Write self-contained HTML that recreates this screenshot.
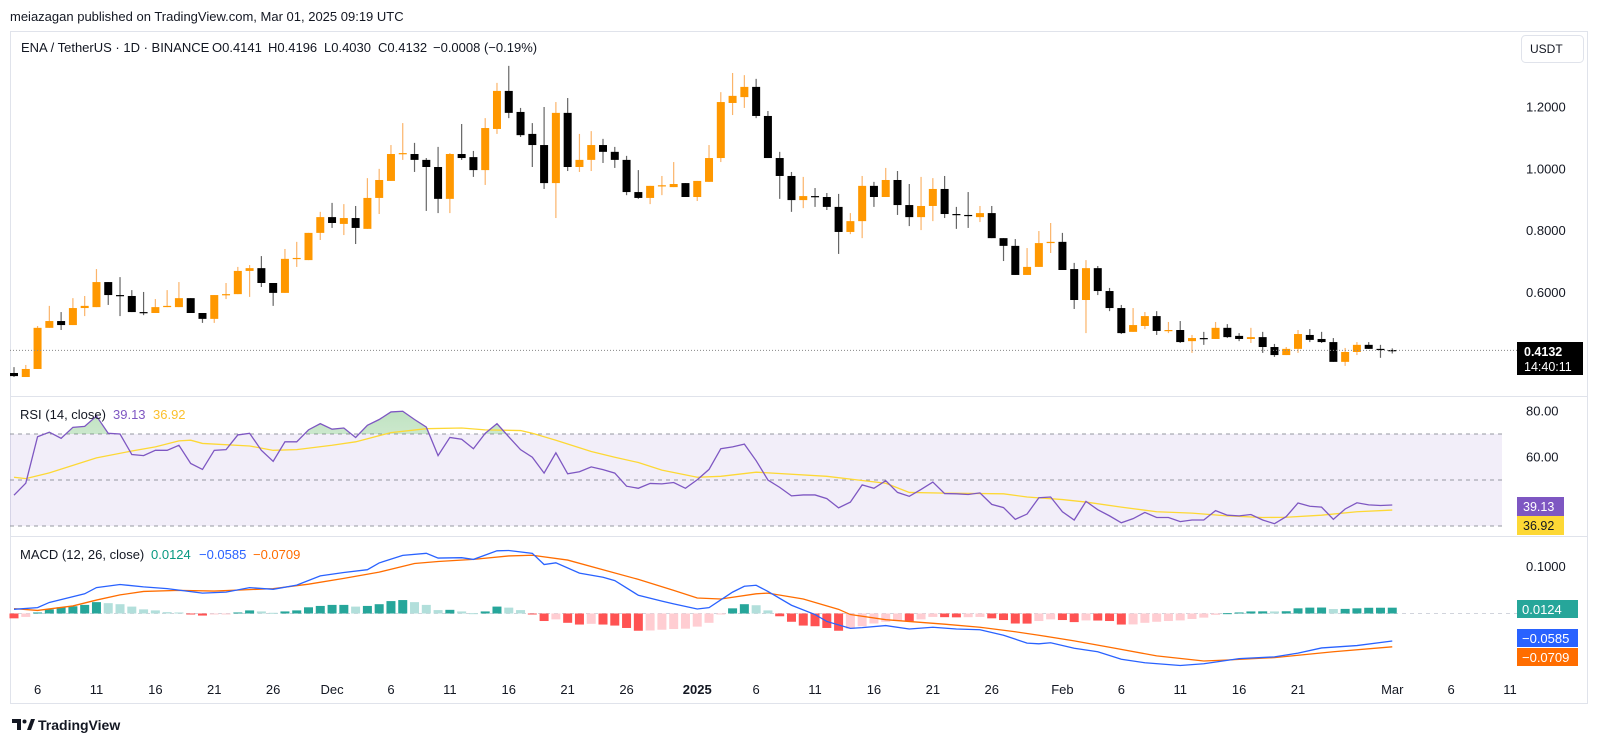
<!DOCTYPE html>
<html><head><meta charset="utf-8"><style>
html,body{margin:0;padding:0;background:#fff;width:1600px;height:743px;overflow:hidden;}
svg{display:block;font-family:"Liberation Sans",sans-serif;}
</style></head><body>
<svg id="chart" width="1600" height="743" viewBox="0 0 1600 743">
<defs>
<clipPath id="obClip"><rect x="10" y="396" width="1492" height="38"/></clipPath>
<linearGradient id="obGrad" x1="0" y1="0" x2="0" y2="1"><stop offset="0" stop-color="#4caf50" stop-opacity="0.35"/><stop offset="1" stop-color="#4caf50" stop-opacity="0.05"/></linearGradient>
</defs>
<text x="10" y="21" font-size="13" fill="#131722">meiazagan published on TradingView.com, Mar 01, 2025 09:19 UTC</text>
<rect x="10.5" y="31.5" width="1577" height="672" fill="none" stroke="#e0e3eb"/>
<line x1="10" y1="396.5" x2="1588" y2="396.5" stroke="#e0e3eb"/>
<line x1="10" y1="536.5" x2="1588" y2="536.5" stroke="#e0e3eb"/>
<g font-size="13" fill="#131722">
<text x="21" y="52">ENA / TetherUS · 1D · BINANCE</text>
<text x="212" y="52">O0.4141</text>
<text x="268" y="52">H0.4196</text>
<text x="324" y="52">L0.4030</text>
<text x="378" y="52">C0.4132</text>
<text x="433" y="52">−0.0008 (−0.19%)</text>
</g>
<g>
<rect x="1521.5" y="35.5" width="62" height="27" rx="4" fill="#fff" stroke="#e0e3eb"/>
<text x="1530" y="53" font-size="12" fill="#131722">USDT</text>
</g>
<g id="priceAxis"></g>
<g id="candles"></g>
<line id="lastLine" x1="10" x2="1517" stroke="#888" stroke-dasharray="1,2"/>
<g>
<rect x="1517" y="342" width="66" height="33" fill="#000"/>
<text x="1524" y="356" font-size="12.5" font-weight="bold" fill="#fff">0.4132</text>
<text x="1524" y="371" font-size="12.5" fill="#fff">14:40:11</text>
</g>
<g id="rsiPane"></g>
<g font-size="13">
<text x="20" y="419" fill="#131722">RSI (14, close)</text>
<text x="113" y="419" fill="#7e57c2">39.13</text>
<text x="153" y="419" fill="#fbc02d">36.92</text>
</g>
<g id="macdPane"></g>
<g font-size="13">
<text x="20" y="559" fill="#131722">MACD (12, 26, close)</text>
<text x="151" y="559" fill="#089981">0.0124</text>
<text x="199" y="559" fill="#2962ff">−0.0585</text>
<text x="253" y="559" fill="#ff6d00">−0.0709</text>
</g>
<g id="timeAxis"></g>
<g>
<path d="M12 719h9v11h-4v-7h-5z" fill="#131722"/>
<circle cx="24.5" cy="721.5" r="2" fill="#131722"/>
<path d="M27 730l4-11h4l-4 11z" fill="#131722"/>
<text x="38" y="730" font-size="14" font-weight="bold" fill="#131722">TradingView</text>
</g>
</svg>
<script>
const opens=[.340,.327,.353,.486,.508,.495,.550,.553,.634,.592,.589,.537,.534,.553,.553,.582,.534,.515,.592,.595,.670,.679,.631,.599,.709,.705,.793,.844,.822,.841,.806,.906,.961,1.048,1.048,1.029,1.006,.903,1.048,1.038,.996,1.129,1.252,1.184,1.113,1.077,.954,1.181,1.006,1.029,1.077,1.055,1.029,.925,.906,.945,.941,.954,.909,.958,1.035,1.213,1.232,1.265,1.171,1.035,.977,.899,.912,.909,.877,.796,.831,.945,.909,.964,.883,.844,.880,.935,.854,.851,.844,.857,.776,.751,.657,.683,.760,.764,.676,.576,.679,.605,.550,.473,.492,.524,.476,.479,.443,.453,.450,.486,.460,.450,.456,.424,.398,.418,.463,.450,.440,.376,.408,.431,.418,.4141];
const highs=[.359,.366,.492,.557,.537,.582,.589,.676,.634,.650,.608,.602,.579,.608,.634,.582,.534,.592,.631,.683,.689,.718,.631,.741,.764,.793,.861,.890,.886,.880,.970,1.000,1.077,1.148,1.084,1.035,1.071,1.051,1.145,1.058,1.164,1.278,1.333,1.197,1.148,1.200,1.216,1.229,1.113,1.122,1.097,1.071,1.042,.996,.945,.977,1.022,.954,.961,1.077,1.248,1.310,1.303,1.291,1.187,1.055,.990,.974,.938,.922,.919,.857,.977,.958,1.003,.993,.951,.974,.970,.977,.877,.925,.880,.880,.776,.773,.744,.799,.825,.793,.696,.705,.686,.615,.560,.550,.537,.540,.505,.508,.463,.473,.505,.498,.469,.486,.473,.434,.424,.479,.482,.473,.453,.421,.440,.440,.431,.4196];
const lows=[.327,.327,.353,.486,.479,.495,.524,.553,.560,.524,.537,.527,.534,.553,.553,.534,.502,.502,.579,.595,.586,.618,.557,.599,.683,.705,.770,.809,.786,.757,.806,.854,.961,1.029,.990,.864,.857,.857,1.029,.974,.948,1.113,1.164,1.103,1.006,.935,.841,.993,.990,.993,1.019,1.003,.915,.903,.886,.915,.941,.909,.896,.958,1.022,1.174,1.197,1.164,1.035,.903,.861,.873,.877,.867,.725,.789,.776,.877,.909,.851,.815,.802,.831,.841,.806,.809,.828,.776,.702,.657,.657,.683,.728,.673,.547,.469,.592,.540,.466,.473,.482,.463,.469,.437,.405,.431,.450,.453,.443,.437,.405,.392,.398,.405,.440,.437,.376,.363,.398,.418,.389,.4030];
const closes=[.330,.353,.486,.508,.495,.550,.557,.634,.592,.590,.537,.535,.553,.557,.582,.534,.515,.592,.595,.670,.679,.631,.599,.709,.712,.793,.844,.825,.841,.809,.906,.964,1.048,1.051,1.029,1.006,.903,1.048,1.035,.996,1.132,1.252,1.181,1.109,1.077,.954,1.181,1.006,1.029,1.077,1.055,1.029,.925,.906,.945,.947,.951,.909,.961,1.035,1.216,1.236,1.265,1.171,1.035,.977,.899,.912,.910,.877,.796,.831,.945,.909,.964,.883,.844,.880,.935,.854,.851,.848,.857,.776,.751,.657,.683,.760,.764,.673,.576,.679,.605,.550,.469,.495,.524,.476,.479,.440,.453,.452,.486,.456,.450,.456,.424,.398,.418,.466,.447,.440,.376,.408,.431,.418,.417,.4132];
const lastPrice=0.4132;
const priceTicks=[1.2,1.0,0.8,0.6];
const priceTickLabels=["1.2000","1.0000","0.8000","0.6000"];
const rsi=[43.4,48.6,68.8,70.8,68.1,72.9,73.3,77.8,70.3,70.0,61.1,60.6,62.9,62.9,65.1,57.2,54.6,62.9,63.2,69.6,70.3,62.9,58.1,66.6,66.6,71.8,74.5,72.1,72.6,68.5,73.8,76.3,79.6,79.9,76.3,73.0,60.6,68.5,67.7,63.6,70.3,74.5,68.8,63.2,59.9,53.0,61.8,52.7,53.6,55.7,54.5,53.0,47.3,46.4,48.5,48.3,48.9,46.4,50.1,54.6,63.6,64.4,65.6,58.4,50.0,46.8,43.1,43.5,43.5,41.9,37.9,40.4,47.9,46.4,49.7,44.6,42.9,45.9,49.1,44.1,44.0,43.7,44.4,39.4,38.0,32.9,35.2,42.3,42.6,36.2,32.6,40.7,37.1,34.4,31.4,33.2,35.9,33.7,33.7,31.9,32.6,32.6,36.7,34.7,34.4,35.0,32.6,31.0,34.1,40.0,38.6,38.2,32.9,37.4,40.1,39.2,38.9,39.13];
const rsiMaIdx=[0,1,3,7,10,12,14,15,16,20,22,24,27,29,32,35,38,40,43,44,46,49,51,53,55,58,60,63,69,72,74,76,79,84,86,89,91,94,97,100,103,106,108,111,114,117];
const rsiMaVal=[51.2,50.6,53.1,59.6,62.6,64.4,67.0,67.3,65.9,64.8,62.9,63.2,65.1,66.6,70.6,72.3,72.6,71.8,71.5,70.3,67.3,62.4,59.9,57.6,54.3,51.2,51.6,53.4,51.6,49.8,48.6,44.6,44.3,44.0,42.6,41.5,40.4,38.2,36.2,35.6,34.4,33.7,33.8,34.7,36.2,36.92];
const rsiLevels=[70,50,30];
const rsiTicks=[80,60];
const rsiTickLabels=["80.00","60.00"];
const macdIdx=[0,2,3,6,7,9,11,13,16,18,20,22,24,26,28,30,31,33,35,36,38,39,41,42,44,45,46,48,50,51,53,55,56,58,59,61,62,63,64,66,68,69,71,72,74,76,78,80,82,84,86,87,88,90,92,94,96,99,101,104,107,109,111,114,117];
const macdVal=[.0089,.0125,.0235,.0419,.0551,.0617,.0566,.0529,.0434,.0455,.0551,.0515,.0603,.0800,.0872,.0932,.1076,.1237,.1281,.1179,.1187,.1151,.1334,.1341,.128,.1042,.1078,.0860,.0772,.0700,.0388,.0264,.0205,.0096,.0125,.0455,.0579,.0601,.0470,.0176,-.0022,-.0169,-.0316,-.0301,-.0257,-.0330,-.0293,-.0330,-.0345,-.0462,-.0630,-.0645,-.0623,-.0740,-.0814,-.0974,-.1048,-.1106,-.1070,-.0960,-.0923,-.0843,-.0733,-.0682,-.0585];
const signalIdx=[0,2,5,7,9,11,14,17,22,25,28,31,34,36,39,42,44,47,50,53,56,58,60,63,64,67,70,71,74,79,82,85,87,90,93,97,101,103,107,112,117];
const signalVal=[.0103,.0065,.0161,.0286,.0396,.0469,.0492,.0477,.0529,.0624,.0748,.088,.1063,.1107,.1151,.1225,.1239,.1137,.0932,.0726,.0492,.033,.0308,.0419,.0434,.0308,.0089,-.0022,-.0132,-.0227,-.0293,-.0389,-.0462,-.0583,-.0718,-.0901,-.1011,-.0989,-.0938,-.0814,-.0709];
const hist=[-.0103,-.0073,.0022,.0088,.0132,.0154,.0183,.0242,.022,.0198,.0147,.0088,.0066,.0029,.0022,-.0007,-.0044,-.0015,-.0007,.0022,.0066,.0044,.0015,.0044,.0066,.0132,.0161,.0183,.0183,.0147,.0161,.0198,.0264,.0286,.0242,.0183,.0073,.0078,.0044,.0007,.0044,.0147,.0125,.0073,-.0005,-.016,-.0125,-.0198,-.0235,-.022,-.0235,-.0257,-.0308,-.0367,-.0362,-.0345,-.033,-.0323,-.0279,-.0198,-.0005,.011,.0198,.0176,.0066,-.0059,-.0176,-.0257,-.0271,-.0308,-.0367,-.0323,-.0271,-.0213,-.0176,-.016,-.0165,-.0125,-.0073,-.0078,-.0082,-.0078,-.0073,-.0103,-.0139,-.0213,-.0215,-.016,-.0125,-.0139,-.0183,-.0147,-.0150,-.016,-.0235,-.0232,-.0198,-.0176,-.016,-.0147,-.0117,-.0088,-.0029,.0007,.0022,.0044,.0046,.0044,.0048,.011,.0125,.0127,.0095,.0098,.011,.0122,.0123,.0124];
const macdTicks=[0.1];
const macdTickLabels=["0.1000"];
const macdBoxes=[["0.0124","#26a69a",600],["−0.0585","#2962ff",629],["−0.0709","#ff6d00",648]];
const timeIdx=[2,7,12,17,22,27,32,37,42,47,52,58,63,68,73,78,83,89,94,99,104,109,117,122,127];
const timeLabels=["6","11","16","21","26","Dec","6","11","16","21","26","2025","6","11","16","21","26","Feb","6","11","16","21","Mar","6","11"];

const NS="http://www.w3.org/2000/svg";
const xOf=i=>14+i*11.78;
const yP=p=>107+(1.2-p)*309.3;
const yR=v=>434+(70-v)*2.3;
const yM=v=>613.5-v*470;
function mk(tag,attrs,parent){const e=document.createElementNS(NS,tag);for(const k in attrs)e.setAttribute(k,attrs[k]);parent.appendChild(e);return e;}

// price axis
const pa=document.getElementById('priceAxis');
priceTicks.forEach((p,k)=>{
  const t=mk('text',{x:1526,y:yP(p)+4.5,'font-size':13,fill:'#131722'},pa);
  
  
  t.textContent=priceTickLabels[k];
});
const ll=document.getElementById('lastLine');ll.setAttribute('y1',yP(lastPrice));ll.setAttribute('y2',yP(lastPrice));

// candles
const cg=document.getElementById('candles');
for(let i=0;i<opens.length;i++){
  const up=closes[i]>=opens[i];
  const x=xOf(i);
  const g=mk('g',{},cg);
  
  
  mk('line',{x1:x,x2:x,y1:yP(highs[i]),y2:yP(lows[i]),stroke:up?'#fbb46a':'#666','stroke-width':1.2},g);
  const top=yP(Math.max(opens[i],closes[i])),bot=yP(Math.min(opens[i],closes[i]));
  mk('rect',{x:x-4,y:top,width:8,height:Math.max(1.2,bot-top),fill:up?'#ff9800':'#000'},g);
}

// RSI pane
const rp=document.getElementById('rsiPane');
const bg=mk('rect',{x:10,y:yR(70),width:1492,height:yR(30)-yR(70),fill:'#7e57c2','fill-opacity':0.1},rp);


rsiLevels.forEach(v=>{
  const l=mk('line',{x1:10,x2:1502,y1:yR(v),y2:yR(v),stroke:'#9598a1','stroke-dasharray':'4,4','stroke-width':1},rp);
  
  
});
rsiTicks.forEach((v,k)=>{
  const t=mk('text',{x:1526,y:yR(v)+4.5,'font-size':13,fill:'#131722'},rp);
  
  
  t.textContent=rsiTickLabels[k];
});
let pts=rsi.map((v,i)=>xOf(i)+','+yR(v)).join(' ');
const ob=mk('polygon',{points:pts+' '+xOf(rsi.length-1)+','+yR(70)+' '+xOf(0)+','+yR(70),fill:'url(#obGrad)','clip-path':'url(#obClip)'},rp);


const ma=mk('polyline',{points:rsiMaIdx.map((ix,k)=>xOf(ix)+','+yR(rsiMaVal[k])).join(' '),fill:'none',stroke:'#fdd835','stroke-width':1.3},rp);


const rl=mk('polyline',{points:pts,fill:'none',stroke:'#7e57c2','stroke-width':1.3},rp);


const rb1=mk('g',{},rp);


mk('rect',{x:1517,y:497,width:47,height:19,fill:'#7e57c2'},rb1);
mk('text',{x:1523,y:511,'font-size':12.5,fill:'#fff'},rb1).textContent='39.13';
const rb2=mk('g',{},rp);


mk('rect',{x:1517,y:516,width:47,height:19,fill:'#fdd835'},rb2);
mk('text',{x:1523,y:530,'font-size':12.5,fill:'#131722'},rb2).textContent='36.92';

// MACD pane
const mp=document.getElementById('macdPane');
const zl=mk('line',{x1:10,x2:1517,y1:yM(0),y2:yM(0),stroke:'#d1d4dc','stroke-dasharray':'4,4'},mp);


macdTicks.forEach((v,k)=>{
  const t=mk('text',{x:1526,y:yM(v)+4.5,'font-size':13,fill:'#131722'},mp);
  
  
  t.textContent=macdTickLabels[k];
});
for(let i=0;i<hist.length;i++){
  const v=hist[i],prev=i>0?hist[i-1]:(v>=0?-1:1);
  let col;
  if(v>=0) col=v>=prev?'#26a69a':'#b2dfdb'; else col=v<=prev?'#ff5252':'#ffcdd2';
  const y0=yM(0),y1=yM(v);
  const r=mk('rect',{x:xOf(i)-4.5,y:Math.min(y0,y1),width:9,height:Math.max(1,Math.abs(y1-y0)),fill:col},mp);
  
  
}
const sl=mk('polyline',{points:signalIdx.map((ix,k)=>xOf(ix)+','+yM(signalVal[k])).join(' '),fill:'none',stroke:'#ff6d00','stroke-width':1.3},mp);


const ml=mk('polyline',{points:macdIdx.map((ix,k)=>xOf(ix)+','+yM(macdVal[k])).join(' '),fill:'none',stroke:'#2962ff','stroke-width':1.3},mp);


macdBoxes.forEach(b=>{
  const g=mk('g',{},mp);
  
  
  mk('rect',{x:1517,y:b[2],width:61,height:18,fill:b[1]},g);
  mk('text',{x:1522,y:b[2]+14,'font-size':13,fill:'#fff'},g).textContent=b[0];
});

// time axis
const ta=document.getElementById('timeAxis');
timeIdx.forEach((ix,k)=>{
  const t=mk('text',{x:xOf(ix),y:694,'font-size':13,fill:'#131722','text-anchor':'middle'},ta);
  if(timeLabels[k]==='2025')t.setAttribute('font-weight','bold');
  
  
  t.textContent=timeLabels[k];
});
</script>
</body></html>
